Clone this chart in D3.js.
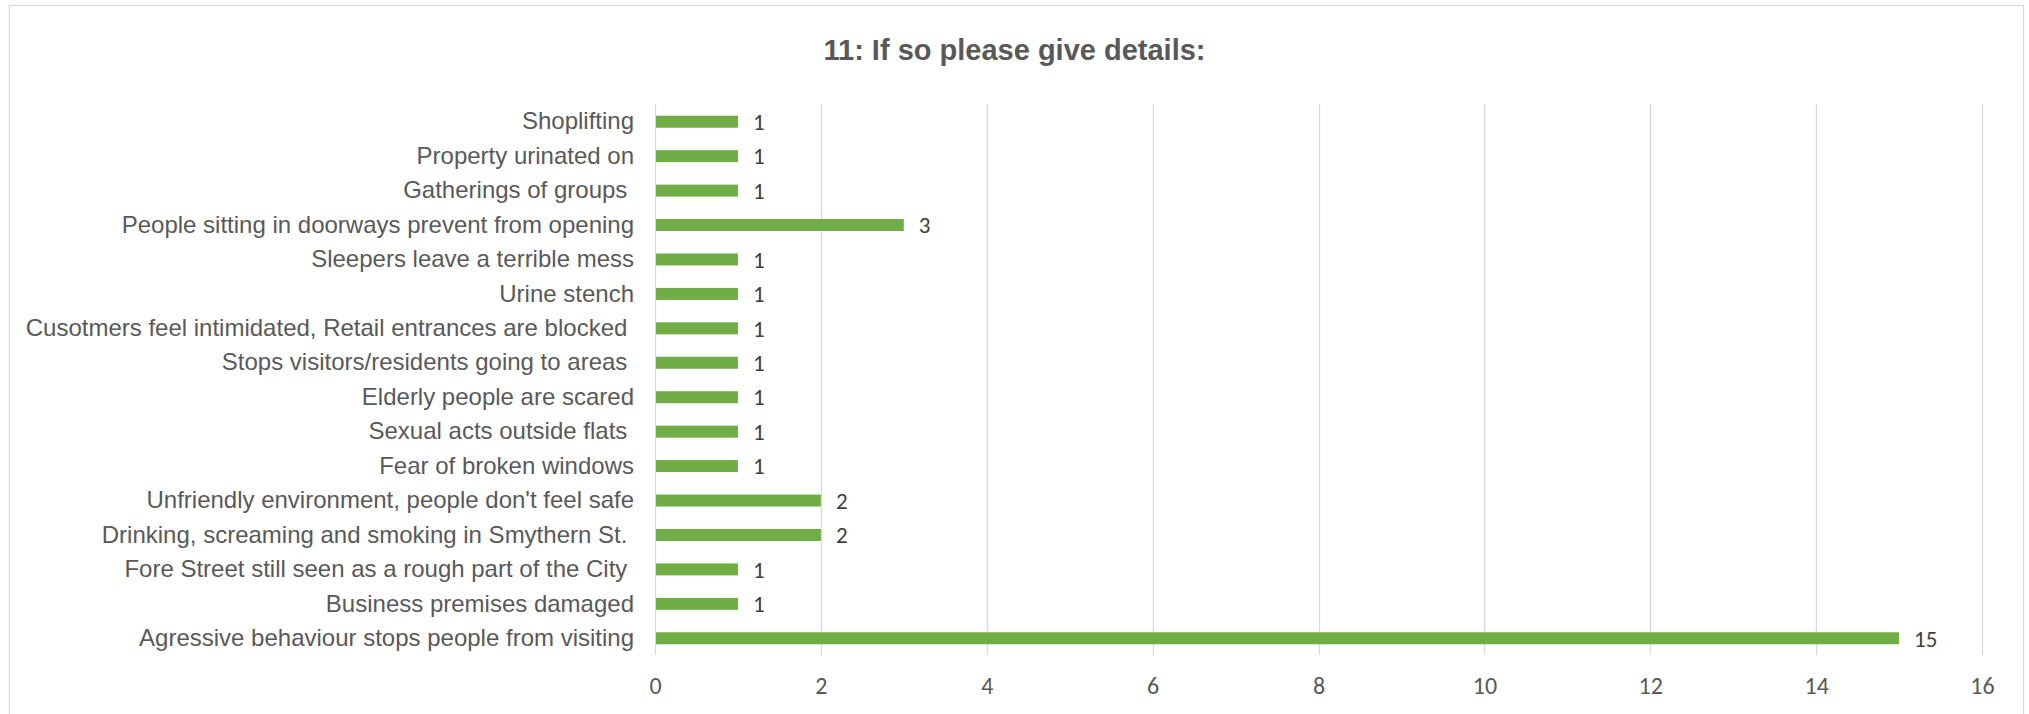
<!DOCTYPE html>
<html><head><meta charset="utf-8">
<script src="https://cdn.jsdelivr.net/npm/d3@7"></script>
<style>html,body{margin:0;padding:0;background:#fff;}svg{display:block;}</style>
</head><body>
<script>
const categories = [
  "Shoplifting",
  "Property urinated on",
  "Gatherings of groups ",
  "People sitting in doorways prevent from opening",
  "Sleepers leave a terrible mess",
  "Urine stench",
  "Cusotmers feel intimidated, Retail entrances are blocked ",
  "Stops visitors/residents going to areas ",
  "Elderly people are scared",
  "Sexual acts outside flats ",
  "Fear of broken windows",
  "Unfriendly environment, people don't feel safe",
  "Drinking, screaming and smoking in Smythern St. ",
  "Fore Street still seen as a rough part of the City ",
  "Business premises damaged",
  "Agressive behaviour stops people from visiting"
];
const values = [1,1,1,3,1,1,1,1,1,1,1,2,2,1,1,15];
const tickValues = [0,2,4,6,8,10,12,14,16];
const title = "11: If so please give details:";

const W = 2029, H = 714;
const svg = d3.select("body").append("svg").attr("width", W).attr("height", H);

svg.append("rect").attr("x", 9.5).attr("y", 5.5).attr("width", 2014).attr("height", 720)
  .attr("fill", "#fff").attr("stroke", "#d9d9d9").attr("stroke-width", 1.3);

const x = d3.scaleLinear().domain([0, 16]).range([655, 1982]);
const y = d3.scaleBand().domain(categories).range([104.5, 655.5]).paddingInner(0.652).paddingOuter(0.326);

// gridlines
svg.append("g").selectAll("line").data(tickValues).join("line")
  .attr("x1", d => Math.round(x(d)) + 0.5).attr("x2", d => Math.round(x(d)) + 0.5)
  .attr("y1", 104).attr("y2", 655)
  .attr("stroke", "#d9d9d9").attr("stroke-width", 1.3);

// x axis labels
const xAxis = d3.axisBottom(x).tickValues(tickValues).tickSize(0).tickPadding(0);
const gx = svg.append("g").attr("transform", "translate(0,694)").call(xAxis);
gx.select(".domain").remove();
gx.selectAll("text").attr("font-family", "Carlito, Calibri, 'Open Sans', sans-serif")
  .attr("font-size", 24).attr("fill", "#595959").attr("dy", "0");

// y axis labels
const yAxis = d3.axisLeft(y).tickSize(0).tickPadding(0);
const gy = svg.append("g").attr("transform", "translate(634,0)").call(yAxis);
gy.select(".domain").remove();
gy.selectAll("text").attr("font-family", "'Liberation Sans', Arial, sans-serif")
  .attr("font-size", 24).attr("fill", "#595959").attr("x", 0)
  .style("white-space", "pre").attr("xml:space", "preserve");

// bars
svg.append("g").selectAll("rect").data(values).join("rect")
  .attr("x", x(0) + 1)
  .attr("y", (d, i) => y(categories[i]))
  .attr("width", d => x(d) - x(0) - 1)
  .attr("height", y.bandwidth())
  .attr("fill", "#70ad47");

// data labels
svg.append("g").selectAll("text").data(values).join("text")
  .attr("x", d => x(d) + 15)
  .attr("y", (d, i) => y(categories[i]) + y.bandwidth() / 2)
  .attr("dy", "0.36em")
  .attr("font-family", "Carlito, Calibri, 'Open Sans', sans-serif")
  .attr("font-size", 23).attr("fill", "#404040")
  .text(d => d);

// title
svg.append("text").attr("x", W / 2).attr("y", 60).attr("text-anchor", "middle")
  .attr("font-family", "'Liberation Sans', Arial, sans-serif").attr("font-weight", "bold")
  .attr("font-size", 29).attr("fill", "#595959").text(title);
</script>
</body></html>
